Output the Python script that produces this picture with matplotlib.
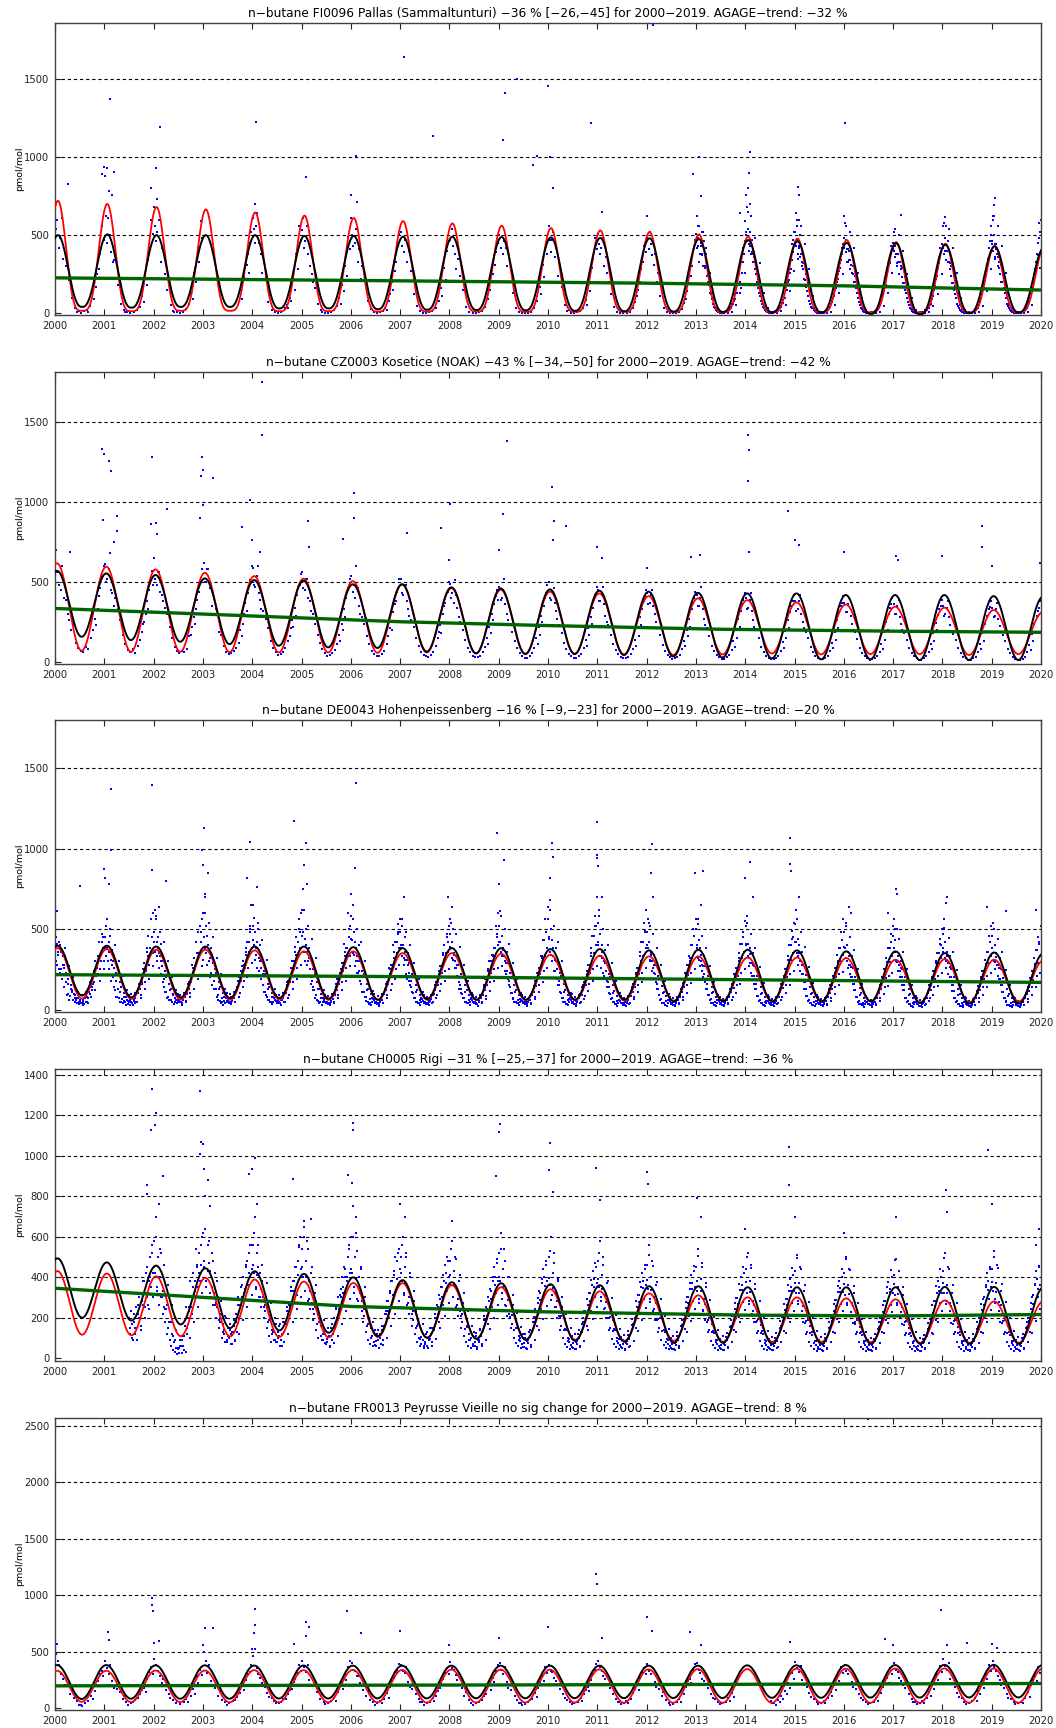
import numpy as np
import matplotlib
matplotlib.use('Agg')
import matplotlib.pyplot as plt

# ---------------------------------------------------------------- station data
years = list(range(2000, 2021))

# FI0096 Pallas
fi_title = 'n−butane FI0096 Pallas (Sammaltunturi) −36 % [−26,−45] for 2000−2019. AGAGE−trend: −32 %'
fi_black_peak = [500, 505, 500, 500, 500, 495, 495, 490, 490, 488, 485, 482, 480, 475, 468, 460, 450, 448, 438, 428, 420]
fi_black_trough = [40, 35, 40, 40, 30, 30, 25, 22, 20, 18, 15, 12, 10, 8, 5, 5, -5, -8, 0, 5]
fi_red_peak = [720, 700, 680, 665, 645, 625, 610, 590, 575, 560, 545, 530, 520, 505, 490, 478, 468, 455, 445, 432, 420]
fi_red_trough = [15, 12, 15, 15, 12, 12, 10, 10, 10, 8, 8, 8, 6, 5, 5, 5, 5, 5, 5, 5]
fi_trend_year = [2000, 2007, 2012, 2016, 2020]
fi_trend_value = [226, 207, 192, 175, 148]
# one line per year, one token per equal slice of the year, '/' separates samples in a slice
fi_obs = """
2000: 540/600 420/480 610/350 300 210 95 30 8/15 4 12 20/8 45 90 170/250 280/380 560/470
2001: 880/620/450 610/500 390/330 340/220 180 60 22/10 6 3 9 18 40 110/70 230/180 340/420 600/510
2002: 680/560/460 520/600 330/420 400/250 150 55 15/8 5 2 8 25 60 120/90 260/200 420/330 590/480
2003: - - - - - - - - - - - - 150/90 230/290 310/380/260 450/520
2004: 610/540/450 560/640/480 450/380 260/330 230 70/120 20 6/12 3 10 30 55/30 100/80 210/150 380/280 560/470
2005: 530/610/420 460/560 380/300 250/200 160 60 18/8 4 2 8 20 45 95/60 180/140 300/240 490/410
2006: 610/500/430 450/540 330/410 220/300 240 80 25 5 3 6 15 35/20 80/120 200/150 270/330 430/510
2007: 520/430 390/470 330/400 270 120 45 12 4 2 5 12 30 75 160/110 290/210 400/460
2008: 470/540 430/380 280/350 240 150 40 10 3 1 5 14 40 90 150/200 250/310 390/450
2009: 500/420 380/460 420/300 200 130 35 10 3 1 4 10 30 80 170/120 310/230 450/380
2010: 560/470/390 470/520 360/420 240/300 170 50 12/20 2 1 5 15 35 85/50 190/140 290/350 480/410
2011: 510/440/380 420/480 300/360 260/200 120 40 10 2 1 4 10 30 70/110 150/200 280/330 430/390
2012: 480/410 520/440/370 310/380 200/260 110 35 8 2 1 3 8 25 65/90 140/190 240/300 420/470
2013: 510/620/430 480/560/380 430/520 370/300/460 290/380 240/200 180/130 120/90 60/40 30/20 12/6 5/3 3/8 4/10 8/15 14/25 20/35 35/60 60/90 90/130 130/180 200/160 260/330 380/460
2014: 590/760/520/460 650/540/440 520/430/380 470/390/330 330/280 250/200 160/130 110/80 60/40 35/20 12/6 5/2 2/6 3/8 6/12 15/25 25/40 40/65 65/100 100/150 150/200 210/260 280/340 390/470/520
2015: 520/640/430 560/470/380 430/360/500 380/300 280/220 210/170 140/110 80/60 40/30 20/12 8/4 3/2 2/5 4/8 6/12 10/20 22/40 40/60 70/100 110/150 160/200 220/270 290/340 380/440
2016: 480/580/390 470/410/330 410/340/280 340/260 250/200 200/160 130/100 70/50 35/25 15/8 5/3 2/1 1/3 2/5 5/10 12/20 20/35 45/60 75/110 120/160 190/240 250/300 320/380 410/450
2017: 410/520/360 430/380/300 380/330/250 330/280 230/190 190/150 130/100 70/50 35/25 12/8 5/3 2/1 1/2 2/4 5/8 10/18 20/30 35/55 60/90 110/150 170/220 240/290 320/360 390/440
2018: 430/560/380 480/400/340 400/330/460 330/280 240/190 190/150 120/100 60/45 30/20 12/8 5/3 2/1 1/2 2/4 4/8 10/15 18/30 35/55 70/100 120/160 180/240 260/310 340/420 460/500/560
2019: 460/620/400 500/440/360 440/380/300 360/290 250/200 200/160 130/100 60/45 30/20 12/8 5/3 2/1 1/2 2/4 4/8 10/16 20/32 40/60 70/100 120/170 190/250 270/330 380/450 480/520/600
"""
fi_obs_monthly = """
2013: 420/560/330 450/380/520 300/420/250 180/260/130 60/100/30 12/25/5 3/8/1 5/12/2 20/40/10 80/120/50 180/250/130 330/420/260
2014: 500/680/400 470/620/380 360/480/290 220/320/160 80/130/45 15/30/6 3/8/1 5/12/2 25/45/12 85/130/55 190/260/140 340/440/270
2015: 440/600/350 420/560/330 320/440/250 190/280/140 65/110/35 12/25/5 2/6/1 4/10/2 22/40/10 80/120/50 180/250/130 320/420/250
2016: 420/560/330 400/520/310 300/420/240 180/260/130 60/100/30 10/22/4 2/5/1 4/9/2 20/38/9 78/118/48 180/250/130 330/430/260
2017: 400/540/320 380/500/300 290/400/230 170/250/120 55/95/28 9/20/4 2/5/1 3/8/1 18/35/8 75/115/45 175/245/125 320/420/250
2018: 420/580/340 400/540/320 300/420/240 175/255/125 55/95/28 9/20/4 2/5/1 3/8/1 18/35/8 78/120/48 190/260/140 350/460/280
2019: 440/620/350 410/560/330 310/430/250 180/260/130 58/98/30 10/22/4 2/5/1 3/8/1 19/36/8 80/125/50 200/280/150 370/480/290
"""
fi_spike_year = [2000.27, 2000.95, 2001.0, 2001.06, 2001.12, 2001.1, 2001.2, 2001.15, 2001.95, 2002.05,
                 2002.07, 2002.12, 2004.08, 2004.05, 2005.1, 2006.0, 2006.1, 2006.12, 2007.07, 2007.67,
                 2009.08, 2009.13, 2009.37, 2009.7, 2009.78, 2010.0, 2010.05, 2010.1, 2010.87, 2011.1,
                 2012.13, 2012.0, 2012.95, 2013.07, 2013.1, 2014.1, 2014.08, 2014.05, 2014.1, 2013.9,
                 2015.08, 2015.09, 2015.1, 2016.03, 2016.0, 2017.17, 2018.05, 2018.08, 2019.07, 2019.05,
                 2019.02, 2019.95]
fi_spike_value = [825, 890, 940, 930, 1370, 780, 905, 760, 800, 930,
                  730, 1195, 1224, 700, 870, 760, 1006, 710, 1640, 1138,
                  1110, 1413, 1498, 947, 1010, 1456, 1000, 800, 1216, 650,
                  1850, 620, 895, 998, 750, 1034, 900, 800, 700, 640,
                  810, 760, 600, 1220, 620, 628, 617, 560, 735, 690,
                  600, 580]

# CZ0003 Kosetice
cz_title = 'n−butane CZ0003 Kosetice (NOAK) −43 % [−34,−50] for 2000−2019. AGAGE−trend: −42 %'
cz_black_peak = [570, 554, 544, 523, 512, 508, 486, 486, 467, 460, 454, 446, 440, 433, 429, 429, 419, 419, 419, 412, 408]
cz_black_trough = [158, 137, 127, 112, 102, 92, 88, 65, 54, 50, 50, 44, 35, 28, 23, 17, 17, 13, 13, 13]
cz_red_peak = [617, 596, 579, 558, 537, 521, 506, 486, 462, 452, 440, 429, 412, 398, 387, 373, 360, 346, 340, 325, 312]
cz_red_trough = [71, 64, 64, 62, 60, 60, 58, 60, 55, 52, 52, 48, 45, 48, 54, 48, 50, 50, 44, 50]
cz_trend_year = [2000, 2003, 2007, 2010, 2013.5, 2017, 2020]
cz_trend_value = [335, 300, 252, 228, 205, 193, 186]
cz_obs = """
2000: 700/560 560/480 450/600 520/400 390 300/260 200 240 120 90 70 60 95 80 150 200 270/230 330/410 460/520 540/600
2001: 610/500 520/580 680/450 430/350 400 330 260 170 110 75 60 80 55 100 140 190/240 250/300 380/330 450/520 570/480
2002: 650/520 480/560 560/440 420/380 340 300 220 150 95 70 55 70 60 80 160 170/220 280/240 330/390 440/500 500/580
2003: 620/500 500/580 580/460 460/350 300 330 190 170 100 60 50 55 70 90 120 200/160 240/300 370/320 430/480 510/600
2004: 590/480 470/540 600/430 390/330 320 270 210 130 85 60 45 50 60 85 130 160/210 260/220 340/290 420/470 480/550
2005: 560/460 450/520 520/400 380/320 300 240 170 120 80 55 40 45 55 75 110 170/130 240/200 330/280 400/450 470/520
2006: 540/440 480/400 600/460 350/300 280 240 160 110 70 50 35 40 50 70 110 160/210 250/200 310/360 380/440 460/520
2007: 520/430 420/480 480/380 330/290 260 220 150 100 65 45 35 30 45 65 100 150/190 230/180 300/350 370/420 440/500
2008: 490/400 430/370 510/420 340/280 250 200 140 90 60 40 30 30 40 60 95 150/110 220/180 300/260 360/410 450/390
2009: 470/390 400/450 520/360 300/260 240 190 130 85 55 38 28 28 38 55 90 150/110 220/170 290/250 350/400 430/480
2010: 500/400 390/440 460/370 320/270 230 180 120 80 50 35 25 28 35 52 85 140/100 210/170 280/240 340/390 420/470
2011: 450/380 380/430 470/360 290/250 230 170 110 75 48 34 25 25 34 48 80 140/100 210/160 280/230 330/380 410/450
2012: 430/360 370/420 450/350 300/250 210 170 105 70 45 32 22 24 32 45 80 130/100 200/160 270/220 330/370 400/440
2013: 420/350 350/400 470/330 270/230 210 160 100 68 42 30 20 22 30 42 75 130/95 200/150 270/220 320/360 390/430
2014: 400/330 340/390 430/320 260/220 200 150 95 60 40 28 18 18 28 40 70 125/90 195/150 260/210 310/350 380/420
2015: 380/320 330/380 420/300 250/210 190 150 95 60 38 26 17 18 26 38 68 120/85 190/140 260/210 310/350 370/410
2016: 370/310 310/360 400/290 240/200 185 145 90 58 36 25 16 17 25 36 66 115/80 185/140 250/200 300/340 360/400
2017: 360/300 300/350 390/280 235/200 180 140 88 56 35 24 15 16 24 35 64 112/80 180/130 245/200 295/330 350/390
2018: 350/290 300/340 380/280 230/190 175 135 85 55 34 23 15 15 23 34 62 110/80 180/130 240/190 290/330 345/380
2019: 340/280 290/330 370/270 225/190 170 130 82 54 33 22 14 15 22 33 60 108/75 175/130 235/190 285/320 340/380
"""
cz_spike_year = [2000.0, 2000.3, 2000.95, 2001.0, 2001.1, 2001.13, 2000.98, 2001.25, 2001.25, 2001.2,
                 2001.96, 2002.05, 2002.07, 2002.28, 2001.95, 2002.98, 2003.0, 2002.97, 2003.2, 2002.95,
                 2003.0, 2003.95, 2003.8, 2004.2, 2004.19, 2004.0, 2004.15, 2005.13, 2005.15, 2006.07,
                 2006.07, 2005.85, 2007.13, 2007.82, 2008.01, 2008.0, 2009.09, 2009.16, 2009.0, 2010.09,
                 2010.13, 2010.37, 2010.1, 2011.0, 2011.1, 2012.0, 2012.9, 2013.08, 2014.06, 2014.07,
                 2014.06, 2014.07, 2014.87, 2015.09, 2015.0, 2016.0, 2017.05, 2017.1, 2018.0, 2018.8,
                 2018.8, 2019.0, 2019.98]
cz_spike_value = [710, 690, 1331, 1297, 1256, 1194, 890, 910, 820, 750,
                  1279, 870, 800, 955, 860, 1279, 1200, 1163, 1152, 900,
                  980, 1010, 845, 1752, 1419, 760, 690, 880, 720, 1058,
                  897, 770, 804, 835, 985, 640, 923, 1381, 700, 1096,
                  880, 850, 760, 717, 650, 590, 658, 670, 1419, 1325,
                  1131, 686, 944, 731, 760, 690, 660, 640, 660, 852,
                  717, 600, 620]

# DE0043 Hohenpeissenberg
de_title = 'n−butane DE0043 Hohenpeissenberg −16 % [−9,−23] for 2000−2019. AGAGE−trend: −20 %'
de_black_peak = [397, 397, 392, 392, 392, 392, 388, 382, 382, 382, 376, 376, 368, 372, 372, 368, 362, 362, 351, 355, 350]
de_black_trough = [87, 76, 76, 72, 72, 68, 62, 66, 62, 62, 62, 62, 51, 51, 51, 51, 51, 41, 37, 37]
de_red_peak = [382, 376, 372, 372, 368, 362, 362, 351, 351, 347, 341, 335, 331, 331, 324, 324, 320, 310, 314, 310, 305]
de_red_trough = [68, 66, 62, 62, 62, 60, 60, 62, 60, 58, 58, 56, 55, 55, 51, 50, 50, 45, 45, 51]
de_trend_year = [2000, 2007, 2013.5, 2020]
de_trend_value = [217, 205, 187, 169]
de_obs = """
2000: 520/300/410 610/340/250 420/230/360 360/190/280 260/140/330 170/230/90 95/160/60 85/130 110/60 95/45/70 60/40 70/50/35 55/40 40/60/28 35/70 50/80/40 75/110 95/150/120 140/230 170/300/210 260/220 300/420/250 340/470 380/450/300
2001: 450/820/330 380/560/300 420/250/500 310/180/370 200/260/140 120/180/80 80/130 70/50/110 50/65 40/80/55 45/30 60/35/90 50/30 45/70/30 55/40 70/100/50 100/130 130/160/90 160/250 220/290/170 250/380 330/460/280 380/560 450/350/600
2002: 480/360/620 560/300/420 450/260/350 330/220/410 270/170/190 140/110/200 110/75 80/60/120 60/45 50/90/35 45/60 60/40/95 60/45 45/70/30 60/90 80/95/55 95/160 130/170/100 170/280 210/250/320 250/420 300/350/480 350/520 420/560/310
2003: 600/450/720 380/520/280 460/400/300 300/200/380 230/150/290 180/130/250 130/80 90/60/130 55/40 45/70/30 55/40 70/50/100 60/40 50/80/35 55/70 70/110/50 110/140 140/200/100 200/240 240/300/180 280/360 340/420/260 420/500 480/650/380
2004: 520/650/400 480/310/380 420/260/540 320/240/400 260/190/300 150/220/110 110/90 80/60/130 60/45 50/80/35 50/70 60/90/40 55/40 45/75/30 60/70 70/100/50 100/150 130/180/90 180/260 230/300/170 300/390 340/450/260 420/560 480/380/600
2005: 620/480/750 360/440/300 500/360/280 300/210/380 250/200/160 180/140/120 120/70 90/60/130 55/40 45/70/30 50/75 60/90/40 50/35 40/65/28 50/75 65/90/45 90/140 120/190/90 190/230 230/290/170 290/410 330/380/260 380/600 450/520/330
2006: 580/430/650 350/480/270 420/300/230 330/230/400 240/180/160 160/110/210 110/80 80/55/120 50/35 40/65/28 45/65 60/95/40 50/35 40/60/25 45/65 60/95/40 95/130 120/170/90 170/260 220/280/160 280/400 320/420/250 420/530 470/380/560
2007: 480/380/560 330/400/280 450/310/220 310/190/350 230/180/150 180/140/110 100/70 75/50/110 50/40 40/60/30 50/65 55/90/40 50/35 40/60/28 50/65 65/90/45 90/135 120/170/90 170/220 220/270/160 270/350 300/400/240 350/470 420/360/520
2008: 470/560/380 420/320/500 340/260/300 260/210/330 200/170/130 150/130/100 95/70 75/48/110 48/38 38/60/28 48/70 60/90/40 48/35 38/58/25 48/70 70/90/45 90/140 120/190/85 190/250 230/300/170 300/340 330/380/250 380/520 450/400/600
2009: 520/420/610 360/460/270 380/330/240 300/220/360 240/190/150 180/140/100 100/65 75/45/110 45/38 38/62/26 45/62 55/90/38 45/32 38/55/24 45/62 62/90/42 90/120 110/180/80 180/230 210/260/150 260/330 320/430/240 430/560 480/380/640
2010: 560/450/680 360/500/300 430/330/240 310/240/380 250/190/150 180/150/110 100/70 70/45/110 45/35 35/60/26 48/70 60/95/42 45/32 35/55/24 48/70 70/95/45 95/140 120/170/85 170/240 220/280/160 280/380 330/460/250 460/580 520/400/700
2011: 540/400/620 330/470/260 400/320/230 300/210/370 240/180/140 170/140/100 95/65 70/45/105 45/32 32/55/24 42/60 55/85/38 42/30 32/50/22 42/60 60/85/40 85/130 110/160/80 160/220 200/260/150 260/360 300/420/230 420/540 480/380/620
2012: 480/560/380 420/300/520 340/240/300 260/230/340 220/170/130 160/130/90 90/60 65/42/100 42/30 30/55/22 40/60 55/80/36 40/28 30/50/20 40/60 60/80/40 80/125 110/165/80 165/230 200/280/150 280/330 300/400/230 400/500 460/360/560
2013: 500/380/560 320/430/270 380/300/240 280/200/330 220/170/130 160/130/90 90/60 65/40/100 40/30 30/50/22 40/60 55/80/36 40/28 30/50/20 40/60 60/80/40 80/130 110/160/80 160/220 200/260/150 260/350 300/410/230 410/480 450/360/550
2014: 520/400/580 330/410/270 380/290/230 290/210/350 210/160/130 160/130/85 85/55 60/38/95 38/30 30/48/22 38/55 55/80/36 38/28 30/48/20 38/55 55/80/38 80/120 110/160/80 160/210 200/250/150 250/330 290/400/220 400/490 450/350/540
2015: 530/420/620 350/440/280 400/300/240 300/220/360 220/170/130 170/130/85 85/55 60/38/95 38/28 28/45/20 36/55 55/80/36 38/28 28/45/20 36/55 55/80/36 80/120 100/150/75 150/210 190/260/140 260/340 290/380/220 380/480 430/340/560
2016: 480/380/540 320/400/260 360/280/220 280/200/330 200/160/120 160/120/80 80/50 55/36/90 36/26 26/42/18 34/50 50/75/34 36/26 26/42/18 34/50 50/75/34 75/110 100/150/72 150/200 180/250/140 250/320 280/380/210 380/470 420/330/520
2017: 460/560/360 430/300/500 330/240/280 240/200/300 200/150/120 150/120/75 75/48 55/34/90 34/25 25/40/18 32/50 50/72/32 34/24 25/40/18 32/50 50/72/32 72/110 100/150/72 150/200 180/240/140 240/300 280/350/210 350/440 400/320/500
2018: 470/360/560 320/420/260 360/290/220 290/200/330 200/150/115 150/115/75 75/48 55/32/88 32/24 24/40/16 30/48 48/70/30 32/24 24/40/16 30/48 48/70/30 70/105 100/145/70 145/200 180/240/140 240/310 280/360/210 360/460 420/330/520
2019: 460/350/540 300/400/250 350/280/210 280/190/320 190/150/110 150/110/72 72/46 52/30/85 30/22 22/38/16 30/46 46/70/30 30/22 22/38/16 30/46 46/70/30 70/100 95/140/68 140/195 180/240/140 240/320 280/370/210 370/450 420/330/520
"""
de_obs_monthly = """
2000: 450/280/360 400/250/330 280/380/220 190/270/150 120/200/90 70/110/50 60/90/45 70/110/50 110/170/80 160/240/120 220/330/180 300/420/250
2001: 380/520/300 360/460/280 300/400/230 220/300/170 140/210/100 80/120/55 60/95/40 60/100/45 100/160/75 170/250/130 240/360/190 330/450/270
2002: 420/580/330 380/480/300 300/420/240 210/300/160 130/200/95 75/120/50 55/90/40 65/105/45 105/170/80 170/260/130 250/350/190 330/480/270
2003: 450/600/350 400/540/320 330/450/250 230/320/170 140/220/100 80/130/55 55/95/40 65/110/45 110/180/80 180/270/140 260/380/200 360/520/290
2004: 430/570/340 380/500/300 310/430/240 220/310/160 140/210/100 80/125/55 55/90/40 60/100/45 100/170/75 170/260/130 250/360/190 340/500/280
2005: 460/620/360 400/520/320 320/440/250 220/320/170 130/210/95 75/120/50 50/85/38 55/95/42 100/160/75 160/250/120 240/360/180 340/500/270
2006: 440/560/340 380/500/300 300/420/240 220/300/160 130/200/95 70/115/48 50/85/35 55/95/40 95/160/70 160/250/120 250/360/190 350/480/280
2007: 400/520/320 360/480/280 290/400/220 200/290/150 120/190/90 70/110/48 50/80/35 55/90/40 95/150/70 150/240/115 230/340/180 320/450/250
2008: 390/540/310 350/470/280 280/390/220 200/280/150 120/180/88 68/105/46 48/78/34 52/88/38 92/150/68 150/240/115 230/340/180 330/470/260
2009: 420/580/330 370/500/290 290/410/230 200/290/150 120/190/88 65/105/45 46/76/32 50/85/36 90/145/66 145/230/110 220/330/170 330/480/260
2010: 440/620/340 380/520/300 300/420/230 210/300/160 120/190/90 66/105/45 46/76/32 52/88/38 90/150/66 150/240/115 230/350/180 350/520/270
2011: 420/580/330 360/500/290 290/400/220 200/290/150 115/180/85 62/100/43 44/72/30 48/82/35 86/140/64 140/225/108 220/330/170 330/490/260
2012: 400/540/310 350/470/280 280/380/210 190/280/145 110/175/82 60/95/42 42/70/29 46/80/34 84/135/62 140/220/105 215/320/165 320/460/250
2013: 400/530/310 340/460/270 270/380/210 190/270/140 110/170/80 58/92/40 40/68/28 45/78/33 82/130/60 135/215/102 210/320/160 320/450/250
2014: 410/540/320 345/470/275 270/380/210 185/265/140 105/165/78 56/90/38 38/65/26 44/76/32 80/130/58 132/210/100 205/310/155 310/440/240
2015: 420/560/330 350/480/280 275/390/215 185/265/140 105/165/78 55/88/38 37/64/25 42/74/31 78/125/56 130/205/98 200/300/150 300/430/235
2016: 390/520/300 335/450/265 260/370/205 180/255/135 100/160/75 52/85/36 35/60/24 40/70/30 75/120/54 125/200/95 195/295/148 295/420/230
2017: 380/500/295 330/440/260 255/360/200 175/250/130 98/155/72 50/82/35 34/58/23 38/68/28 72/118/52 122/195/92 190/290/145 290/410/225
2018: 385/510/300 330/445/262 255/360/200 172/248/128 96/152/70 50/80/34 33/56/22 37/66/27 70/115/50 120/190/90 188/285/142 292/420/228
2019: 380/500/295 325/440/258 250/355/198 170/245/126 95/150/70 48/78/33 32/55/21 36/65/27 70/112/50 118/188/88 185/282/140 288/410/225
"""
de_spike_year = [2000.0, 2000.5, 2001.14, 2001.14, 2001.0, 2001.1, 2001.96, 2001.97, 2002.25, 2002.1,
                 2003.03, 2002.98, 2003.0, 2003.1, 2003.05, 2003.95, 2003.9, 2004.1, 2004.85, 2005.1,
                 2005.05, 2005.12, 2006.1, 2006.08, 2006.0, 2007.07, 2007.98, 2008.05, 2008.96, 2009.1,
                 2009.0, 2010.08, 2010.1, 2010.05, 2010.99, 2010.99, 2011.0, 2011.02, 2011.1, 2012.1,
                 2012.08, 2012.12, 2012.98, 2013.14, 2013.1, 2014.1, 2014.0, 2014.15, 2014.9, 2014.9,
                 2014.92, 2015.1, 2016.1, 2016.15, 2017.06, 2017.08, 2016.9, 2018.1, 2018.08, 2018.9,
                 2019.3, 2019.9]
de_spike_value = [690, 770, 1374, 990, 876, 780, 1399, 870, 800, 640,
                  1130, 990, 900, 850, 700, 1043, 820, 760, 1174, 1035,
                  900, 780, 1409, 880, 720, 698, 702, 640, 1095, 927,
                  780, 1033, 950, 820, 1168, 960, 940, 890, 700, 1027,
                  850, 700, 847, 860, 650, 919, 820, 700, 1068, 905,
                  860, 700, 640, 600, 748, 720, 600, 702, 660, 640,
                  610, 620]

# CH0005 Rigi
ch_title = 'n−butane CH0005 Rigi −31 % [−25,−37] for 2000−2019. AGAGE−trend: −36 %'
ch_black_peak = [493, 473, 457, 444, 429, 416, 399, 385, 375, 370, 365, 360, 355, 355, 350, 350, 350, 350, 352, 352, 350]
ch_black_trough = [199, 185, 166, 148, 136, 125, 108, 100, 95, 90, 85, 80, 75, 75, 70, 70, 70, 70, 70, 70]
ch_red_peak = [430, 418, 404, 396, 388, 378, 371, 370, 360, 350, 340, 330, 320, 310, 300, 300, 295, 290, 285, 280, 280]
ch_red_trough = [115, 112, 108, 107, 104, 102, 104, 100, 95, 90, 90, 85, 85, 80, 80, 80, 78, 75, 75, 75]
ch_trend_year = [2000, 2003, 2006, 2010, 2014, 2017, 2020]
ch_trend_value = [345, 300, 255, 228, 212, 208, 215]
ch_obs = """
2001: - - - - - - - - - - - - 200/120 170/90 220/150 150/90 260/200 200/140 320/260 380/250 420/300 260/380 500/350 560/420
2002: 580/420 700/350 500/260 400/520 300/220 250/180 240/120 150/90 60/120 40/80 30/50 20/45 25/60 60/90 110/40 160/250 120/200 250/380 300/220 420/310 380/540 450/350 520/380 460/600
2003: 620/450 800/380 560/470 430/300 520/260 320/420 200/250 300/150 180/220 100/170 120/80 200/80 150/100 140/120 70/130 160/90 220/130 300/200 260/350 300/400 320/450 480/360 520/400 560/440
2004: 560/420 700/350 520/450 300/420 250/380 300/200 230/300 150/250 110/200 80/140 140/90 90/170 80/130 110/170 90/60 130/180 170/230 220/260 260/330 330/380 380/450 450/310 480/560 600/440
2005: 540/400 650/330 480/580 280/380 240/420 270/190 220/320 140/260 100/180 160/90 90/130 120/70 80/150 110/60 150/90 120/200 150/250 200/300 260/310 300/400 350/450 400/320 380/500 560/420
2006: 600/420 750/350 500/620 290/400 250/450 280/180 210/300 130/250 90/200 70/150 110/60 80/140 60/120 90/50 120/70 140/90 160/220 220/280 280/200 320/380 380/280 410/500 480/360 540/440
2007: 500/380 600/320 450/520 260/350 220/400 240/160 190/280 120/230 80/170 100/60 70/130 90/50 70/120 60/100 90/150 120/80 150/200 200/260 250/180 290/350 350/260 380/460 420/330 480/400
2008: 480/360 580/300 430/500 250/340 210/380 230/150 180/270 110/220 80/160 60/120 90/50 70/130 60/110 55/90 80/140 110/70 140/190 190/250 240/170 280/340 330/250 380/450 400/320 470/380
2009: 520/380 620/320 440/540 260/330 210/400 220/150 170/260 100/210 75/150 60/110 85/50 70/120 55/100 50/85 75/130 105/65 135/180 180/240 230/160 270/330 320/240 370/440 400/310 460/380
2010: 500/360 600/310 420/520 250/320 200/380 210/140 160/250 100/200 70/140 55/100 80/45 65/110 50/90 45/80 70/120 100/60 130/170 180/230 230/160 260/320 320/230 360/430 390/300 450/370
2011: 480/350 580/300 410/500 240/310 200/370 200/140 150/240 95/190 70/140 55/100 75/45 62/105 48/90 45/75 68/115 95/60 125/165 170/220 220/150 250/310 310/220 350/420 380/290 440/360
2012: 460/340 560/290 400/480 230/300 190/360 190/130 150/230 90/180 65/130 50/95 70/42 60/100 45/85 42/72 65/110 90/58 120/160 165/215 215/145 245/300 300/210 340/410 370/280 430/350
2013: 450/330 540/290 390/470 230/290 190/350 180/130 140/220 85/170 62/125 48/90 68/40 58/95 44/80 40/70 62/105 88/55 118/155 160/210 210/140 240/295 295/205 335/400 360/275 420/340
2014: 440/320 520/280 380/460 220/280 180/340 180/125 135/210 82/165 60/120 46/88 66/38 56/92 42/78 40/68 60/100 86/52 115/150 158/205 205/135 235/290 290/200 330/390 350/270 410/330
2015: 430/320 510/280 370/450 215/275 180/330 175/120 130/205 80/160 58/115 45/85 64/36 55/90 42/76 38/66 58/98 84/50 112/148 155/200 200/130 230/285 285/195 325/380 345/265 400/325
2016: 420/310 500/270 360/440 210/270 175/320 170/118 128/200 78/155 56/112 44/82 62/35 54/88 40/74 38/64 56/95 82/50 110/145 152/198 198/128 228/280 280/190 320/375 340/260 400/320
2017: 410/310 490/270 350/430 205/265 170/310 165/115 125/195 76/150 55/110 43/80 60/34 52/85 40/72 36/62 55/92 80/48 108/142 150/195 195/125 225/280 280/190 320/380 350/270 400/320
2018: 430/320 520/280 360/450 210/270 175/320 170/118 128/200 78/155 56/112 44/82 62/35 54/88 40/74 38/64 56/95 82/50 110/145 152/198 198/128 235/290 300/200 350/420 380/290 440/350
2019: 440/330 530/290 370/460 215/275 180/330 175/120 130/205 80/160 58/115 45/85 64/36 55/90 42/76 38/66 58/98 84/50 112/148 155/200 200/130 240/300 310/210 360/430 390/300 450/360
"""
ch_obs_monthly = """
2001: - - - - - - 150/230/100 180/120/250 220/300/160 280/380/200 320/450/240 400/520/300
2002: 450/600/330 400/540/300 330/460/240 260/360/180 180/260/110 90/140/50 50/90/25 60/110/30 150/230/100 250/350/180 330/460/250 420/560/320
2003: 480/640/350 430/580/320 350/480/260 270/380/190 200/280/130 140/210/90 110/170/70 130/190/85 180/260/120 260/360/190 340/460/250 420/560/310
2004: 460/620/340 410/560/300 340/460/250 260/370/180 190/270/120 130/200/80 100/160/60 120/180/80 170/250/120 250/350/180 330/450/240 410/550/300
2005: 450/600/330 400/540/290 330/450/240 250/360/170 180/260/110 120/190/75 95/150/55 110/170/75 160/240/110 240/340/170 320/440/230 400/540/290
2006: 440/600/320 390/530/280 320/440/230 240/350/160 170/250/100 110/180/65 85/140/50 100/160/65 150/230/100 230/330/160 310/430/220 390/520/280
2007: 420/560/310 370/500/270 300/420/220 230/330/150 160/240/95 105/170/60 80/130/48 95/150/60 140/220/95 220/310/150 300/410/210 370/500/270
2008: 410/540/300 360/490/260 290/410/210 220/320/145 155/230/90 100/160/58 78/125/45 90/145/58 135/210/90 210/300/145 290/400/200 360/490/260
2009: 400/540/290 350/480/255 285/400/205 215/310/140 150/225/88 98/155/55 75/120/44 88/140/56 130/205/88 205/295/140 285/390/195 355/480/255
2010: 395/530/285 345/470/250 280/390/200 210/300/138 145/220/85 95/150/54 72/118/42 85/138/54 128/200/86 200/290/138 280/385/192 350/470/250
2011: 390/520/280 340/460/245 275/380/196 205/295/135 142/215/83 92/145/52 70/114/40 82/134/52 124/195/84 196/284/134 275/378/188 345/462/245
2012: 385/510/275 335/455/240 270/375/192 200/290/132 138/210/80 90/142/50 68/110/39 80/130/50 120/190/82 192/278/130 270/370/184 340/455/240
2013: 380/505/272 330/450/236 265/370/188 196/285/128 135/205/78 88/138/48 66/108/38 78/126/48 118/186/80 188/272/128 265/365/180 335/450/236
2014: 375/500/268 325/445/232 262/365/185 192/280/126 132/200/76 86/135/47 64/105/37 76/123/47 115/182/78 185/268/125 262/360/178 330/445/232
2015: 372/495/265 322/440/230 258/360/182 190/276/124 130/198/75 85/132/46 63/103/36 75/120/46 113/180/77 182/265/123 258/355/176 328/440/230
2016: 368/490/262 318/435/228 255/355/180 188/272/122 128/195/74 84/130/45 62/101/35 74/118/45 112/178/76 180/262/122 255/352/174 325/436/228
2017: 365/486/260 315/430/226 252/352/178 185/268/120 126/192/73 83/128/44 61/100/34 73/116/44 110/175/75 178/260/120 258/356/176 330/440/232
2018: 372/495/265 322/440/230 258/360/182 188/272/122 128/195/74 84/130/45 62/101/35 74/118/45 112/178/76 182/265/123 262/362/180 336/450/238
2019: 378/502/270 328/446/234 262/366/185 190/276/124 130/198/75 85/132/46 63/103/36 75/120/46 113/180/77 185/270/125 266/366/182 340/455/240
"""
ch_spike_year = [2001.97, 2002.05, 2002.03, 2001.95, 2001.87, 2001.86, 2002.2, 2002.1, 2002.94, 2002.96,
                 2003.0, 2002.95, 2003.02, 2003.1, 2003.15, 2004.0, 2003.93, 2004.05, 2004.1, 2004.83,
                 2005.05, 2005.2, 2006.05, 2006.05, 2005.95, 2006.02, 2006.1, 2007.0, 2007.1, 2008.05,
                 2009.02, 2009.0, 2008.95, 2010.04, 2010.02, 2010.1, 2010.98, 2011.05, 2012.01, 2012.03,
                 2013.02, 2013.1, 2014.0, 2014.88, 2014.88, 2015.0, 2016.0, 2017.05, 2018.08, 2018.1,
                 2018.93, 2019.0, 2019.9, 2019.95]
ch_spike_value = [1331, 1213, 1152, 1130, 854, 813, 900, 760, 1319, 1068,
                  1057, 1007, 933, 880, 750, 933, 912, 991, 760, 887,
                  680, 690, 1127, 1163, 903, 864, 700, 760, 700, 680,
                  1156, 1118, 900, 1063, 930, 820, 939, 780, 922, 860,
                  792, 700, 640, 1042, 858, 700, 620, 700, 830, 720,
                  1031, 760, 559, 640]

# FR0013 Peyrusse Vieille
fr_title = 'n−butane FR0013 Peyrusse Vieille no sig change for 2000−2019. AGAGE−trend: 8 %'
fr_black_peak = [380, 380, 378, 378, 376, 376, 375, 375, 375, 375, 375, 375, 375, 375, 378, 378, 380, 380, 382, 382, 382]
fr_black_trough = [80, 82, 82, 82, 84, 84, 85, 85, 86, 86, 87, 87, 88, 88, 90, 90, 92, 92, 93, 93]
fr_red_peak = [330, 330, 332, 332, 335, 335, 337, 337, 340, 340, 340, 342, 342, 345, 345, 348, 348, 350, 350, 350, 350]
fr_red_trough = [55, 52, 52, 50, 50, 50, 50, 48, 48, 48, 48, 46, 46, 46, 46, 46, 46, 46, 46, 46]
fr_trend_year = [2000, 2010, 2020]
fr_trend_value = [196, 205, 217]
fr_obs = """
2000: 480/420 380/300 260/200 200 120/160 90 60/30 30/15 40 60 110/80 150/200 240/300 330/280
2001: 420/350 300/380 240/180 170 140 80/110 50/30 40 50/70 90 120/160 180/140 260/320 360/300
2002: 430/380 330/280 220/260 160 120/90 75 45/60 35 55 80/50 110 170/120 280/220 340/290
2003: 500/420 310/380 240/200 180 110/150 70 50/30 40 60 70/100 130 200/160 250/300 320/380
2004: 460/520 350/300 270/220 190 130/100 90 60/40 45 50/80 80 120/160 170/230 260/310 380/330
2005: 420/360 320/380 250/200 200 140 80/120 55/35 45 60 90/60 140 230/170 300/250 360/420
2006: 400/340 330/280 280/220 160 110/150 70 50/30 40 60/40 80 130/90 190/240 270/320 340/390
2007: 380/330 310/360 230/190 170 120 80/50 50/30 40 55 85/60 110/150 180/220 260/310 350/300
2008: 410/350 340/290 250/200 180 110/140 70 45/30 40 50 75/110 120 200/160 270/230 330/380
2009: 400/340 300/360 230/180 160 110 70/45 45/30 35 50/70 80 130/100 180/230 280/240 360/310
2010: 380/330 320/270 240/200 170 120/90 75 50/35 40 55 85/60 120/160 190/150 250/300 340/390
2011: 420/360 330/280 260/210 180 120 80/50 55/35 45 60/40 80 130/170 200/160 270/320 350/300
2012: 390/330 300/350 230/190 170 110/140 70 45/30 35 50 80/55 120 190/240 260/220 340/390
2013: 400/340 310/260 240/200 180 120/90 80 50/35 40 55 85/60 130/100 - - -
2014: - - - - - - - 60/40 45/30 70/50 110/80 150/120 220/180 310/260
2015: 410/350 320/370 250/200 190 130/100 80 55/35 45 60/40 90 140/110 200/160 280/240 360/310
2016: 380/330 300/350 230/190 170 120/90 75 50/35 40 55 85/60 130 190/250 270/220 350/300
2017: 400/340 320/270 240/200 180 120 80/55 55/35 45 60/40 90 140/110 210/170 290/250 370/320
2018: 430/370 340/400 260/210 190 130/100 85 55/35 45 60 90/65 150/120 220/180 300/260 380/330
2019: 420/360 330/280 250/200 180 120/90 80 50/35 40 55/40 85 140/100 200/250 280/240 360/310
"""
fr_spike_year = [2000.0, 2000.05, 2001.07, 2001.1, 2001.96, 2001.96, 2001.98, 2002.0, 2002.1, 2003.05,
                 2003.2, 2003.0, 2004.06, 2004.05, 2004.04, 2004.0, 2005.1, 2005.15, 2005.1, 2004.85,
                 2005.92, 2006.2, 2007.0, 2008.0, 2009.0, 2010.0, 2010.98, 2011.0, 2011.1, 2012.0,
                 2012.1, 2012.89, 2013.1, 2014.9, 2016.49, 2016.84, 2017.0, 2017.97, 2018.1, 2018.5,
                 2019.0, 2019.1]
fr_spike_value = [540, 570, 677, 600, 972, 916, 857, 578, 590, 708,
                  708, 560, 873, 739, 668, 520, 761, 717, 637, 570,
                  857, 661, 680, 560, 620, 720, 1190, 1100, 620, 804,
                  680, 675, 560, 585, 2560, 608, 560, 871, 560, 573,
                  564, 530]


# ---------------------------------------------------------------- helpers
def parse_obs(text):
    times, vals = [], []
    for line in text.strip().splitlines():
        year, rest = line.split(':')
        tokens = rest.split()
        n = len(tokens)
        for i, tok in enumerate(tokens):
            if tok == '-':
                continue
            parts = tok.split('/')
            k = len(parts)
            for j, val in enumerate(parts):
                times.append(int(year) + (i + (j + 0.5) / k) / n)
                vals.append(float(val))
    return times, vals


def seasonal_line(peaks, troughs, peak_phase, trough_phase, sharp=1.0):
    # smooth curve passing through the yearly maxima and minima of the fit
    kt = [1999 + trough_phase]
    kv = [troughs[0]]
    kp = [False]
    for i, p in enumerate(peaks):
        kt.append(2000 + i + peak_phase)
        kv.append(p)
        kp.append(True)
        if i < len(troughs):
            kt.append(2000 + i + trough_phase)
            kv.append(troughs[i])
            kp.append(False)
    t_out, v_out = [], []
    for k in range(len(kt) - 1):
        s = np.linspace(0, 1, 60)
        t = kt[k] + s * (kt[k + 1] - kt[k])
        a, b = kv[k], kv[k + 1]
        if kp[k]:
            w = ((1 + np.cos(np.pi * s)) / 2) ** sharp
            v = b + (a - b) * w
        else:
            w = ((1 - np.cos(np.pi * s)) / 2) ** sharp
            v = a + (b - a) * w
        t_out.append(t)
        v_out.append(v)
    return np.concatenate(t_out), np.concatenate(v_out)


panels = [
    dict(title=fi_title, bp=fi_black_peak, bt=fi_black_trough, rp=fi_red_peak, rt=fi_red_trough,
         ty=fi_trend_year, tv=fi_trend_value, obs=[fi_obs, fi_obs_monthly], sy=fi_spike_year, sv=fi_spike_value,
         ylim=(-12, 1860), yticks=[0, 500, 1000, 1500], phase=(0.06, 0.55), sharp=(1.3, 1.9)),
    dict(title=cz_title, bp=cz_black_peak, bt=cz_black_trough, rp=cz_red_peak, rt=cz_red_trough,
         ty=cz_trend_year, tv=cz_trend_value, obs=[cz_obs], sy=cz_spike_year, sv=cz_spike_value,
         ylim=(-12, 1812), yticks=[0, 500, 1000, 1500], phase=(0.04, 0.54), sharp=(1.0, 1.0)),
    dict(title=de_title, bp=de_black_peak, bt=de_black_trough, rp=de_red_peak, rt=de_red_trough,
         ty=de_trend_year, tv=de_trend_value, obs=[de_obs, de_obs_monthly], sy=de_spike_year, sv=de_spike_value,
         ylim=(-15, 1800), yticks=[0, 500, 1000, 1500], phase=(0.05, 0.55), sharp=(1.0, 1.0)),
    dict(title=ch_title, bp=ch_black_peak, bt=ch_black_trough, rp=ch_red_peak, rt=ch_red_trough,
         ty=ch_trend_year, tv=ch_trend_value, obs=[ch_obs, ch_obs_monthly], sy=ch_spike_year, sv=ch_spike_value,
         ylim=(-15, 1430), yticks=[0, 200, 400, 600, 800, 1000, 1200, 1400], phase=(0.05, 0.55), sharp=(1.0, 1.0)),
    dict(title=fr_title, bp=fr_black_peak, bt=fr_black_trough, rp=fr_red_peak, rt=fr_red_trough,
         ty=fr_trend_year, tv=fr_trend_value, obs=[fr_obs], sy=fr_spike_year, sv=fr_spike_value,
         ylim=(-18, 2570), yticks=[0, 500, 1000, 1500, 2000, 2500], phase=(0.04, 0.54), sharp=(1.0, 1.0)),
]

# ---------------------------------------------------------------- figure
W, H = 1056, 1728
fig = plt.figure(figsize=(W / 100, H / 100), dpi=100)
plt.rcParams['font.family'] = 'DejaVu Sans'

left_px, right_px = 55, 1041
tops_px = [23, 372, 720, 1069, 1418]
panel_h = 292

for p, top in zip(panels, tops_px):
    ax = fig.add_axes([left_px / W, 1 - (top + panel_h) / H, (right_px - left_px) / W, panel_h / H])

    # observations
    t_obs, v_obs = [], []
    for block in p['obs']:
        t, v = parse_obs(block)
        t_obs += t
        v_obs += v
    t_obs += list(p['sy'])
    v_obs += list(p['sv'])
    ax.plot(t_obs, v_obs, ls='none', marker='s', ms=1.9, mew=0, color='#0000ff', zorder=2)

    # fitted seasonal curves and trend
    tr, vr = seasonal_line(p['rp'], p['rt'], *p['phase'], sharp=p['sharp'][1])
    tb, vb = seasonal_line(p['bp'], p['bt'], *p['phase'], sharp=p['sharp'][0])
    ax.plot(tr, vr, color='#ff0000', lw=1.3, zorder=3)
    ax.plot(tb, vb, color='black', lw=1.4, zorder=4)
    ax.plot(p['ty'], p['tv'], color='#006400', lw=2.4, zorder=5)

    # dashed reference lines
    for yv in p['yticks'][1:]:
        ax.axhline(yv, color='black', lw=0.8, ls=(0, (3, 2.5)), zorder=1)

    ax.set_xlim(2000, 2020)
    ax.set_ylim(*p['ylim'])
    ax.set_xticks(years)
    ax.set_xticklabels([str(y) for y in years])
    ax.set_yticks(p['yticks'])
    ax.tick_params(direction='in', top=True, right=False, length=4, width=0.8,
                   labelsize=7.2, pad=4, colors='#222222')
    for sp in ax.spines.values():
        sp.set_color('#404040')
        sp.set_linewidth(1.0)
    ax.set_ylabel('pmol/mol', fontsize=6.8, labelpad=0)
    ax.set_title(p['title'], fontsize=8.7, pad=4)

fig.savefig('out.png', dpi=100)
